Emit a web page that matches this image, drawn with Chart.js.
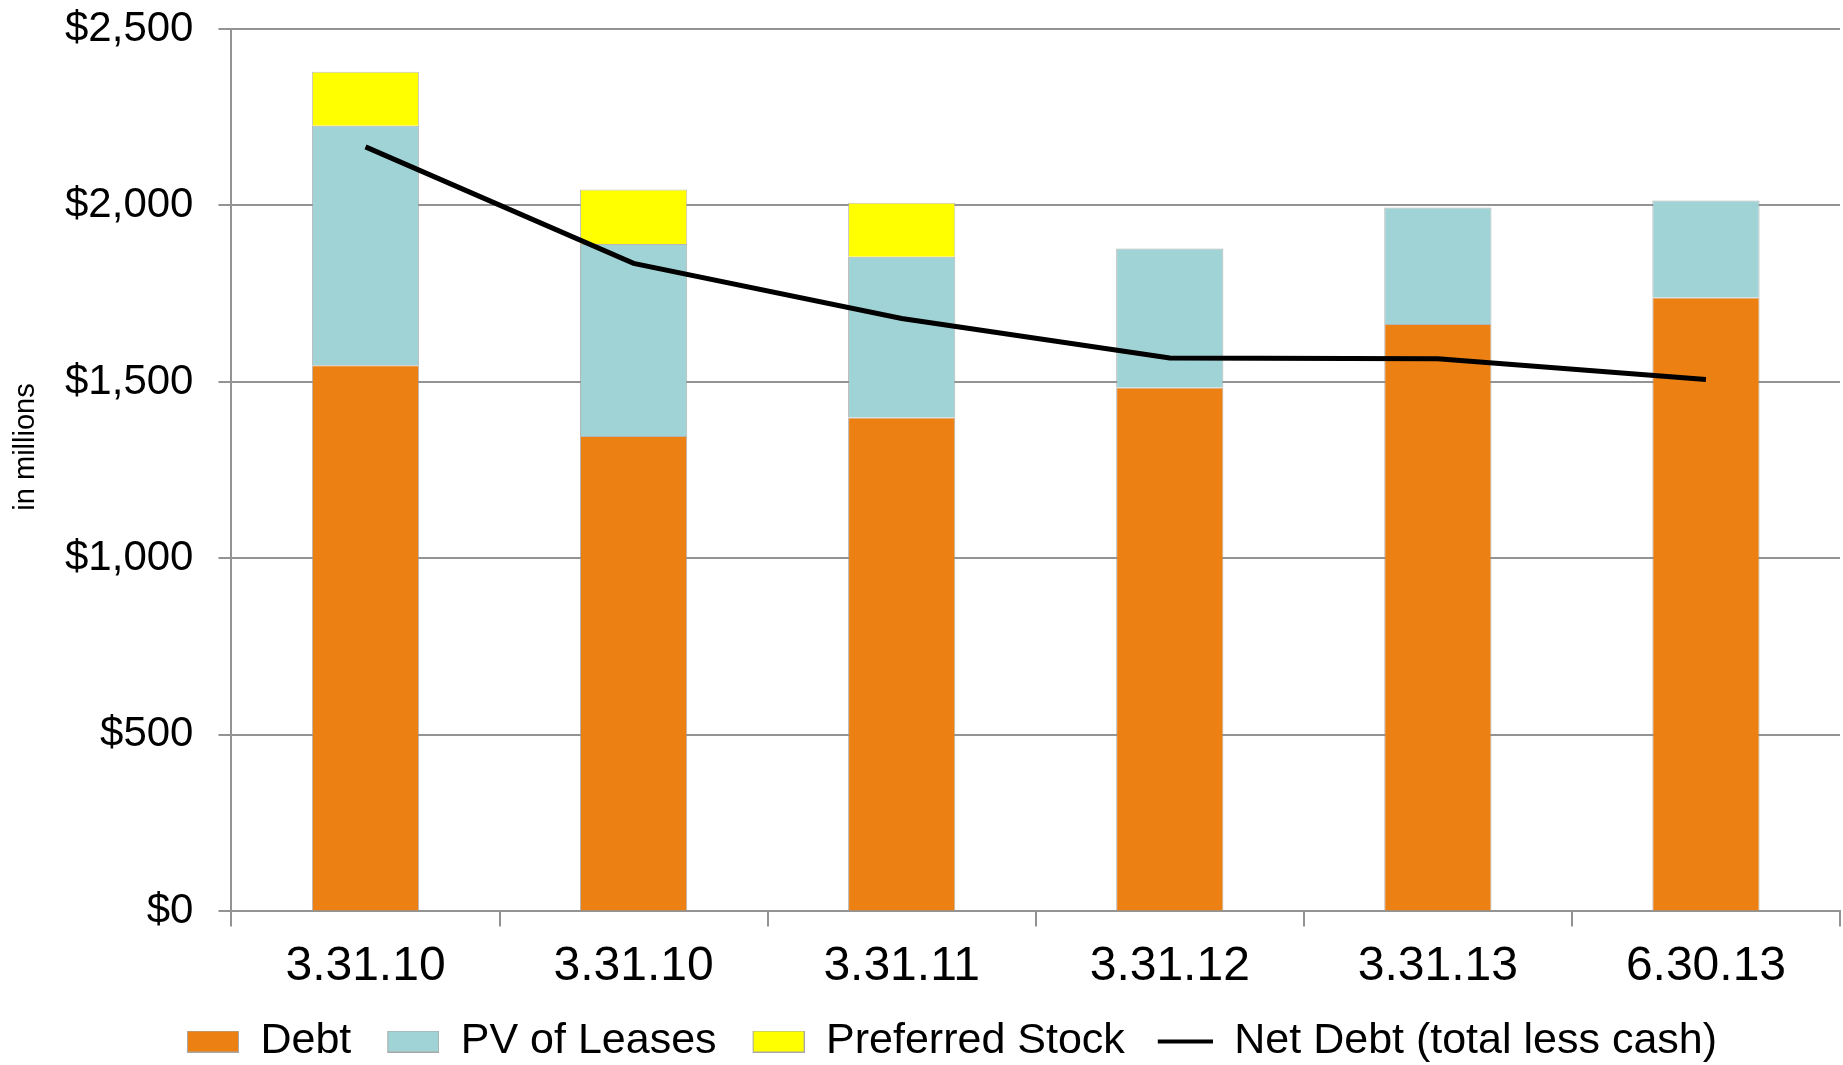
<!DOCTYPE html>
<html>
<head>
<meta charset="utf-8">
<title>Debt chart</title>
<script src="https://cdn.jsdelivr.net/npm/chart.js@4.4.0/dist/chart.umd.min.js"></script>
<style>
  html, body { margin: 0; padding: 0; background: #fff; }
  canvas { display: block; }
</style>
</head>
<body>
<canvas id="debtChart" width="1843" height="1065"></canvas>
<script>
const dates = ["3.31.10", "3.31.10", "3.31.11", "3.31.12", "3.31.13", "6.30.13"];
const debt = [1547, 1347, 1399, 1484, 1664, 1739];
const leases = [679, 544, 456, 394, 330, 275];
const preferred = [153, 154, 153, null, null, null];
const netDebt = [2166, 1836, 1680, 1568, 1566, 1507];
const yTicks = [0, 500, 1000, 1500, 2000, 2500];

const fontFam = "'Liberation Sans', Arial, sans-serif";
const gridGray = "#939393";
Chart.defaults.color = "#000";
Chart.defaults.font.family = fontFam;

// legend swatches: transparent lead-in then box / line, so spacing looks like the original
function swatch(fill, isLine) {
  const c = document.createElement("canvas");
  c.width = 76;
  c.height = 22;
  const g = c.getContext("2d");
  if (isLine) {
    g.fillStyle = "#000";
    g.fillRect(21, 9, 55, 4);
  } else {
    g.fillStyle = fill;
    g.fillRect(24, 0, 52, 22);
    g.strokeStyle = "#a8a8a8";
    g.lineWidth = 1;
    g.strokeRect(24.5, 0.5, 51, 21);
  }
  return c;
}

// "in millions" sits above the middle of the axis, so draw it by hand
const yTitle = {
  id: "yTitle",
  afterDraw(chart) {
    const ctx = chart.ctx;
    ctx.save();
    ctx.translate(26, 447);
    ctx.rotate(-Math.PI / 2);
    ctx.font = "29px " + fontFam;
    ctx.fillStyle = "#000";
    ctx.textAlign = "center";
    ctx.textBaseline = "middle";
    ctx.fillText("in millions", 0, 0);
    ctx.restore();
  }
};

new Chart("debtChart", {
  data: {
    labels: dates,
    datasets: [
      {
        type: "bar",
        label: "Debt",
        data: debt,
        backgroundColor: "#EC8013",
        borderColor: "rgba(150,150,150,0.7)",
        borderWidth: 1,
        order: 1
      },
      {
        type: "bar",
        label: "PV of Leases",
        data: leases,
        backgroundColor: "#A0D3D6",
        borderColor: "rgba(150,150,150,0.7)",
        borderWidth: 1,
        order: 1
      },
      {
        type: "bar",
        label: "Preferred Stock",
        data: preferred,
        backgroundColor: "#FFFF00",
        borderColor: "rgba(170,170,170,0.7)",
        borderWidth: 1,
        order: 1
      },
      {
        type: "line",
        label: "Net Debt (total less cash)",
        data: netDebt,
        borderColor: "#000",
        backgroundColor: "#000",
        borderWidth: 5,
        pointRadius: 0,
        tension: 0,
        order: 0
      }
    ]
  },
  options: {
    responsive: false,
    animation: false,
    datasets: {
      bar: { barPercentage: 0.4, categoryPercentage: 1 }
    },
    layout: {
      padding: { top: 29, left: 40, right: 3, bottom: -8 }
    },
    scales: {
      x: {
        stacked: true,
        grid: {
          offset: true,
          drawOnChartArea: false,
          color: gridGray,
          lineWidth: 2,
          tickLength: 15
        },
        border: { color: gridGray, width: 2 },
        ticks: {
          font: { size: 48 },
          padding: 12
        }
      },
      y: {
        stacked: true,
        min: 0,
        max: 2500,
        afterBuildTicks: (axis) => {
          axis.ticks = yTicks.map(v => ({ value: v }));
        },
        afterFit: (axis) => {
          axis.paddingTop = 0;
        },
        grid: {
          color: gridGray,
          lineWidth: 2,
          tickLength: 13
        },
        border: { color: gridGray, width: 2 },
        ticks: {
          font: { size: 42 },
          padding: 25,
          callback: (v) => "$" + Number(v).toLocaleString("en-US")
        }
      }
    },
    plugins: {
      tooltip: { enabled: false },
      legend: {
        position: "bottom",
        labels: {
          font: { size: 43 },
          padding: 12,
          usePointStyle: true,
          pointStyleWidth: 76,
          boxHeight: 22,
          sort: (a, b) => a.datasetIndex - b.datasetIndex,
          generateLabels: (chart) => {
            const items = Chart.defaults.plugins.legend.labels.generateLabels(chart);
            items.forEach((item) => {
              const ds = chart.data.datasets[item.datasetIndex];
              item.pointStyle = swatch(ds.backgroundColor, ds.type === "line");
            });
            return items;
          }
        }
      }
    }
  },
  plugins: [yTitle]
});
</script>
</body>
</html>
